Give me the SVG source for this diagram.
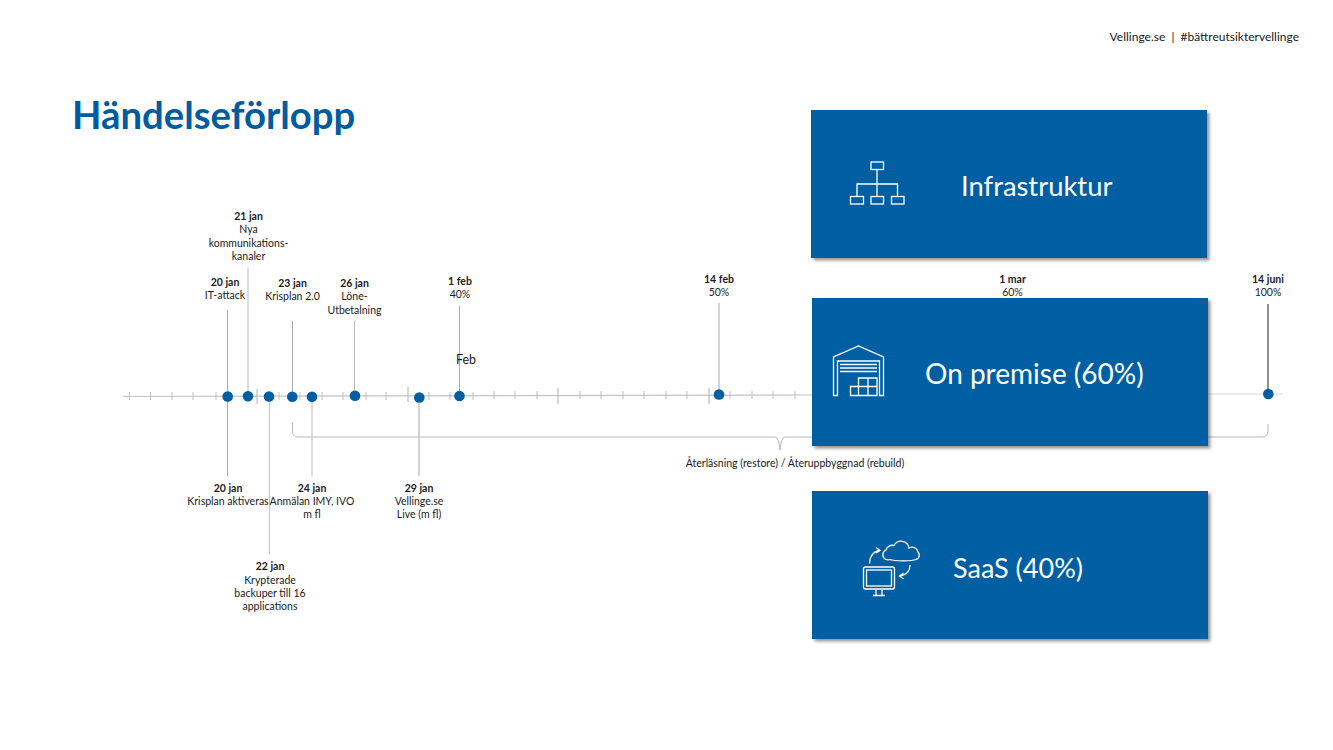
<svg xmlns="http://www.w3.org/2000/svg" width="1333" height="750" viewBox="0 0 1333 750">
<style>
text{font-family:"Lato","Noto Sans","Liberation Sans",sans-serif;fill:#231a1c}
.l{font-size:10.5px;text-anchor:middle}
.b{font-weight:700}
.s{stroke:#a8a8a8;stroke-width:1;fill:none}
.t{stroke:#c0c0c0;stroke-width:1}
.T{stroke:#b0b0b0;stroke-width:1}
.d{fill:#005ea2}
.box{fill:#005ea2;filter:url(#sh)}
.h{fill:#fff;text-anchor:start}
.i{fill:none;stroke:#fff;stroke-width:1.3}
</style>
<defs>
<filter id="sh" x="-3%" y="-5%" width="107%" height="112%"><feDropShadow dx="2.5" dy="2.5" stdDeviation="1.5" flood-color="#000" flood-opacity=".4"/></filter>
</defs>
<rect width="1333" height="750" fill="#fff"/>
<text id="header" x="1299" y="41" text-anchor="end" style="font-size:12px">Vellinge.se&#160;&#160;|&#160;&#160;#bättreutsiktervellinge</text>
<text id="title" x="72" y="129" style="font-size:38.3px;font-weight:700;fill:#005c9e">Händelseförlopp</text>
<g id="connectors">
<path d="M123 396.500L815 395" stroke="#c4c4c4" fill="none" stroke-width="1.2"/>
<path d="M1205 394H1283" stroke="#d8d8d8" fill="none"/>
<path class="t" d="M129.500 392v8M150.500 392v8M172 392v8M193 392v8M216 392v8M279 392v8M300 392v8M322 392v8M343 392v8M366 392v8M386 392v8M429 392v8M450 392v8M473 392v8M494 391v8M515 391v8M537 391v8M580 391v8M601 391v8M623 391v8M644 391v8M666 391v8M687 391v8M730 391v8M752 391v8M773 391v8M795 391v8"/>
<path class="T" d="M257 389v15M408 387v15M558 388v16M709 388v16"/>
<path class="s" d="M227.500 310V476M292.500 321V396M459.500 306V396M419 398V476M719 303V394"/>
<path class="s" d="M354.500 321V395M248 268V396" style="stroke:#bbb"/>
<path d="M269.500 397V554M312 397V476" stroke="#c8c8c8" fill="none" stroke-width="1.2"/>
<path d="M1268 304V394" stroke="#231a1c" fill="none"/>
<path class="s" style="stroke:#b8b8b8" d="M292.500 423V431Q292.500 437 298 437H775Q779 437 780 450Q781 437 785 437H1262Q1268 437 1268 431V424"/>
</g>
<g id="dots">
<circle class="d" cx="227.700" cy="396.500" r="5.300"/><circle class="d" cx="248" cy="396.300" r="5.300"/><circle class="d" cx="269" cy="396.500" r="5.300"/><circle class="d" cx="292.300" cy="396.700" r="5.300"/><circle class="d" cx="312" cy="396.700" r="5.300"/><circle class="d" cx="355" cy="395.700" r="5.300"/><circle class="d" cx="419.300" cy="397.500" r="5.300"/><circle class="d" cx="459.500" cy="396" r="5.300"/><circle class="d" cx="719" cy="394.500" r="5.300"/><circle class="d" cx="1268.300" cy="394" r="5.300"/>
</g>
<g id="n-20jan-attack"><text class="l b" x="225" y="286">20 jan</text><text class="l" x="225" y="299">IT-attack</text></g>
<g id="n-21jan"><text class="l b" x="248.500" y="220">21 jan</text><text class="l" x="248.500" y="233">Nya</text><text class="l" x="248.500" y="247">kommunikations-</text><text class="l" x="248.500" y="260">kanaler</text></g>
<g id="n-23jan"><text class="l b" x="292.500" y="287">23 jan</text><text class="l" x="292.500" y="300">Krisplan 2.0</text></g>
<g id="n-26jan"><text class="l b" x="354.500" y="287">26 jan</text><text class="l" x="354.500" y="300">Löne-</text><text class="l" x="354.500" y="314">Utbetalning</text></g>
<g id="n-1feb"><text class="l b" x="460" y="285">1 feb</text><text class="l" x="460" y="298">40%</text><text x="466" y="364" text-anchor="middle" style="font-size:12.500px">Feb</text></g>
<g id="n-14feb"><text class="l b" x="719" y="283">14 feb</text><text class="l" x="719" y="296">50%</text></g>
<g id="n-1mar"><text class="l b" x="1012.500" y="283">1 mar</text><text class="l" x="1012.500" y="296">60%</text></g>
<g id="n-14juni"><text class="l b" x="1268" y="283">14 juni</text><text class="l" x="1268" y="296">100%</text></g>
<g id="n-20jan-krisplan"><text class="l b" x="228" y="492">20 jan</text><text class="l" x="228" y="505">Krisplan aktiveras</text></g>
<g id="n-24jan"><text class="l b" x="312" y="492">24 jan</text><text class="l" x="312" y="505">Anmälan IMY, IVO</text><text class="l" x="312" y="518">m fl</text></g>
<g id="n-29jan"><text class="l b" x="419" y="492">29 jan</text><text class="l" x="419" y="505">Vellinge.se</text><text class="l" x="419" y="518">Live (m fl)</text></g>
<g id="n-22jan"><text class="l b" x="270" y="570">22 jan</text><text class="l" x="270" y="584">Krypterade</text><text class="l" x="270" y="597">backuper till 16</text><text class="l" x="270" y="610">applications</text></g>
<g id="n-restore"><text class="l" x="795" y="467">Återläsning (restore) / Återuppbyggnad (rebuild)</text></g>
<g id="infrastruktur">
<rect class="box" x="811" y="110" width="396" height="148"/>
<g class="i"><rect x="871" y="162" width="12.500" height="7.500"/><rect x="850.500" y="196.500" width="13" height="7.500"/><rect x="871" y="196.500" width="12.500" height="7.500"/><rect x="891.500" y="196.500" width="12.500" height="7.500"/><path d="M877 169.500V196.500M857 196.500V184H897.500V196.500"/></g>
<text class="h" x="961" y="196" style="font-size:27.4px">Infrastruktur</text>
</g>
<g id="onpremise">
<rect class="box" x="812" y="298" width="396" height="148"/>
<g class="i"><path d="M833.500 395.500V357L858.500 346L883.500 357V395.500H879.500V361H837.500V395.500ZM840 364.500H877M840 368H877M840 371.500H877"/><path d="M850.500 395.500V386.500H858.500V378H877V395.500ZM858.500 386.500V395.500M868 378V395.500M858.500 386.500H877"/></g>
<text class="h" x="925" y="384" style="font-size:28px">On premise (60%)</text>
</g>
<g id="saas">
<rect class="box" x="812" y="491" width="396" height="148"/>
<g class="i"><path d="M889 558.500A5 5 0 0 1 885 549A6.500 6.500 0 0 1 893 544.500A8 8 0 0 1 908 547A6 6 0 0 1 917 551A4.500 4.500 0 0 1 915 558.500C910 560.500 893 560 889 558.500Z" transform="translate(1 1)"/><rect x="863.500" y="567" width="31" height="22" rx="2"/><rect x="866.500" y="570" width="25" height="16"/><path d="M876 589.500V595M882 589.500V595M873 595.500H885M869.500 563.500C869.500 556 873 552 879 550.500M876 547.500L880 550.500L876 553M910 565C910 571 906 575 900 576M903.500 573L899.500 576L903.500 579"/></g>
<text class="h" x="953" y="578" style="font-size:27px">SaaS (40%)</text>
</g>
</svg>
